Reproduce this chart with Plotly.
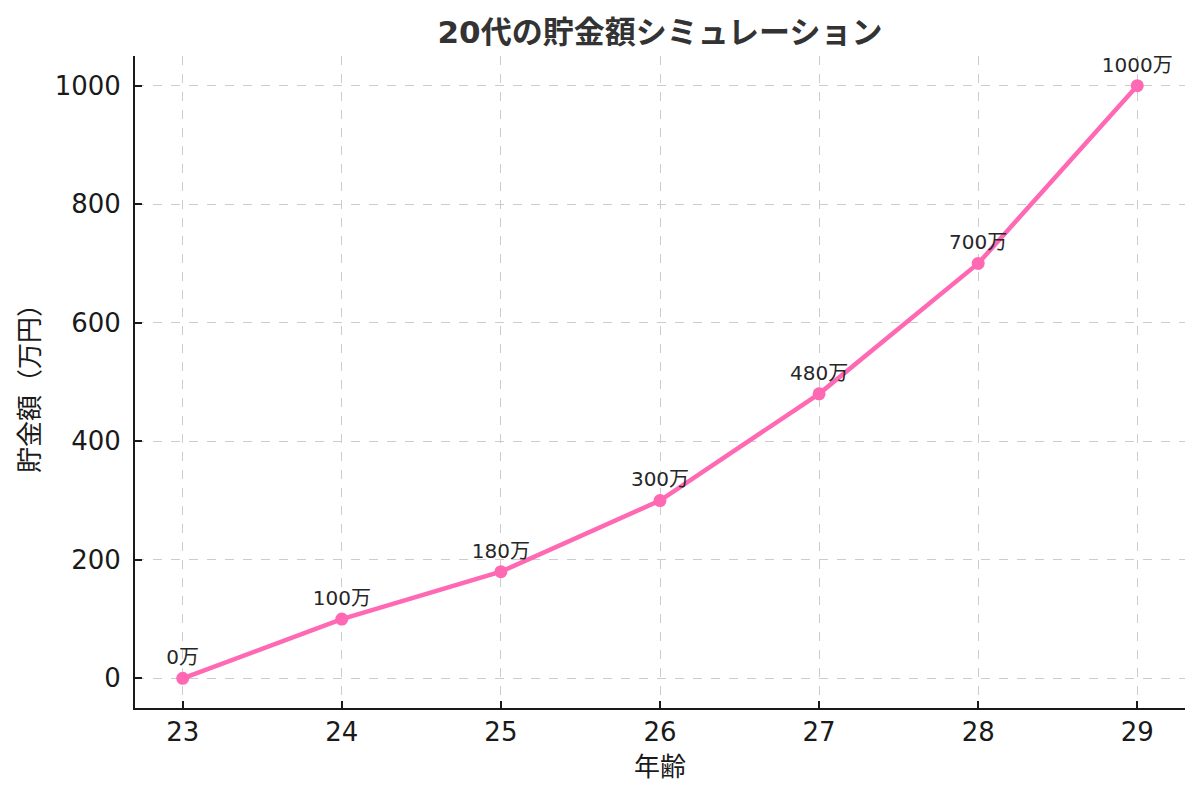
import plotly.graph_objects as go

# data
ages = [23, 24, 25, 26, 27, 28, 29]
savings = [0, 100, 180, 300, 480, 700, 1000]
labels = [f"{v}万" for v in savings]

title_text = "20代の貯金額シミュレーション"
x_title = "年齢"
y_title = "貯金額（万円）"

font_family = "DejaVu Sans, Noto Sans CJK JP"

fig = go.Figure()

fig.add_trace(go.Scatter(
    x=ages, y=savings,
    mode="lines+markers+text",
    text=labels,
    textposition="top center",
    textfont=dict(size=20, color="#262626"),
    line=dict(color="#ff69b4", width=4.5),
    marker=dict(size=13, color="#ff69b4"),
    showlegend=False,
))

axis_common = dict(
    showline=True,
    linecolor="#1a1a1a",
    linewidth=2,
    ticks="inside",
    ticklen=7,
    tickwidth=1.5,
    tickcolor="#1a1a1a",
    showgrid=True,
    gridcolor="#cccccc",
    griddash="dash",
    gridwidth=1,
    zeroline=False,
    tickfont=dict(size=26, color="#1a1a1a"),
    title_font=dict(size=26, color="#1a1a1a"),
    mirror=False,
)

fig.update_xaxes(
    **axis_common,
    range=[22.7, 29.3],
    tickvals=ages,
    title_text=x_title,
    title_standoff=12,
)
fig.update_yaxes(
    **axis_common,
    range=[-50, 1050],
    tickvals=[0, 200, 400, 600, 800, 1000],
    ticklabelstandoff=7,
    title_text=y_title,
    title_standoff=8,
)

fig.update_layout(
    title=dict(
        text=f"<b>{title_text}</b>",
        xref="paper", x=0.5, xanchor="center",
        y=0.97, yanchor="middle",
        font=dict(size=31, color="#333333"),
    ),
    font=dict(family=font_family),
    width=1200,
    height=798,
    margin=dict(l=127, r=23, t=48, b=98),
    plot_bgcolor="white",
    paper_bgcolor="white",
)

fig.write_html("out.html")
